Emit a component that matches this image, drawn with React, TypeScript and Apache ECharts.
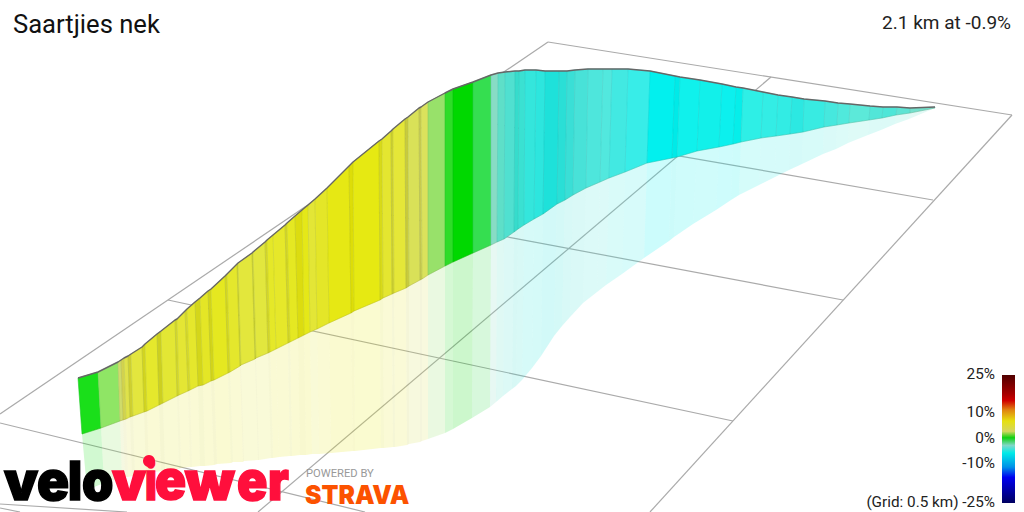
import { useEffect, useRef } from 'react';
import * as echarts from 'echarts';

// Stations along the climb (top of wall, foot of wall, foot of reflection)
const topX = [78, 98, 118, 121, 124, 128, 131, 142, 145, 157, 161, 175, 177, 185, 187, 195, 200, 208, 211, 225, 227, 237, 238, 252, 253, 265, 267, 273, 285, 287, 295, 302, 308, 315, 327, 349, 353, 379, 382, 391, 393, 405, 408, 419, 421, 428, 445, 453, 473, 491, 498, 505, 515, 519, 525, 536, 545, 559, 567, 575, 588, 603, 612, 628, 650, 675, 680, 700, 722, 736, 743, 763, 778, 792, 804, 825, 838, 850, 870, 883, 897, 910, 935];
const topY = [378, 372, 362, 360, 358, 356, 354, 347, 344, 334, 331, 320, 319, 311, 309, 302, 298, 291, 289, 276, 274, 264, 263, 253, 252, 242, 240, 235, 225, 223, 216, 210, 205, 199, 188, 166, 162, 141, 139, 131, 129, 119, 117, 108, 107, 102, 93, 89, 82, 75, 73, 72, 71, 71, 70, 70, 71, 71, 71, 70, 69, 69, 69, 69, 71, 76, 77, 80, 84, 87, 88, 92, 95, 97, 99, 101, 103, 104, 106, 107, 107, 108, 107];
const midX = [82, 101, 120, 123, 126, 130, 133, 144, 147, 159, 163, 177, 179, 188, 190, 198, 203, 211, 214, 228, 230, 240, 241, 255, 256, 268, 270, 276, 288, 290, 298, 304, 310, 317, 329, 351, 354, 380, 383, 392, 394, 406, 409, 420, 422, 428, 445, 453, 473, 491, 497, 504, 514, 518, 524, 534, 543, 557, 565, 573, 586, 600, 609, 625, 647, 672, 677, 697, 719, 733, 741, 761, 776, 790, 803, 824, 837, 849, 869, 882, 896, 910, 935];
const midY = [434, 428, 421, 420, 419, 417, 416, 412, 411, 405, 403, 396, 395, 391, 390, 386, 385, 381, 380, 373, 372, 366, 365, 359, 358, 353, 352, 349, 343, 342, 338, 335, 332, 329, 323, 313, 311, 300, 298, 294, 293, 288, 286, 280, 279, 275, 266, 262, 253, 245, 242, 239, 232, 229, 225, 219, 214, 204, 200, 195, 188, 182, 178, 172, 163, 158, 157, 151, 147, 144, 142, 138, 136, 134, 132, 127, 125, 123, 120, 118, 115, 113, 108];
const baseX = [87, 104, 122, 125, 128, 132, 135, 146, 149, 161, 165, 179, 181, 190, 192, 200, 205, 214, 217, 231, 233, 243, 244, 258, 259, 271, 273, 279, 290, 292, 300, 306, 312, 319, 331, 353, 355, 381, 384, 393, 395, 407, 409, 420, 422, 428, 445, 453, 472, 490, 496, 503, 512, 516, 522, 532, 541, 554, 562, 570, 583, 597, 606, 622, 644, 669, 674, 693, 716, 731, 739, 759, 775, 789, 802, 823, 836, 848, 868, 881, 895, 909, 935];
const baseY = [490, 483, 478, 477, 477, 476, 476, 474, 473, 471, 470, 469, 468, 467, 467, 466, 466, 465, 464, 463, 462, 462, 461, 460, 460, 458, 458, 457, 456, 456, 455, 455, 454, 454, 453, 451, 451, 448, 448, 447, 447, 445, 444, 442, 441, 439, 433, 429, 418, 407, 402, 396, 389, 386, 380, 368, 356, 336, 326, 317, 303, 292, 285, 274, 258, 241, 237, 224, 210, 200, 195, 185, 177, 170, 164, 154, 149, 143, 135, 130, 124, 119, 108];
const sectionColors = ['#1adf1a', '#8fe565', '#cfdb6a', '#d2d24e', '#dfe24a', '#cfd030', '#e3e63e', '#d2d420', '#e5e82c', '#cdd020', '#e3e734', '#d3d62a', '#e4e634', '#d6d82a', '#e5e72c', '#d4d61a', '#e4e626', '#d2d41a', '#e5e820', '#d4d620', '#e4e72c', '#d0d228', '#e3e73c', '#cfd22c', '#e2e73e', '#d4d62a', '#e5e828', '#e6e82a', '#d4d626', '#e5e822', '#dcdc10', '#e5e818', '#e3e636', '#e4e628', '#e6e814', '#dddd08', '#e6e912', '#d8da18', '#e4e630', '#ced030', '#e5e738', '#c8cb3c', '#d9e158', '#c8cc50', '#dbe25c', '#98e16a', '#2edc28', '#00d800', '#35de50', '#88dcc5', '#5edfc8', '#50e0d0', '#36dccc', '#3ae1d2', '#34e6dc', '#2de6de', '#1ee1da', '#2adfd6', '#3adfd6', '#48e2d8', '#4ee6dc', '#52e8de', '#42e9e2', '#38ede8', '#02f0ee', '#00eae8', '#10f1ec', '#12f0ea', '#0cf0ee', '#06eeea', '#2eefe6', '#33ede5', '#32ece4', '#2ce8e2', '#38ebe2', '#46e8de', '#50e9dc', '#5ce9d9', '#52e6d8', '#4ee6d8', '#5ee4d4', '#74e0cc'];

// Ground grid lines (0.5 km squares in perspective)
const gridFromX = [548, 548, 1012, 771, 168, 316, 443, 0, 0, 0];
const gridFromY = [42, 42, 115, 77, 300, 201, 115, 423, 504, 508];
const gridToX = [1012, 0, 650, 258, 733, 843, 933, 365, 127, 20];
const gridToY = [115, 414, 512, 512, 421, 300, 200, 512, 512, 512];

const barStops = [0, 0.15, 0.2, 0.27, 0.36, 0.44, 0.49, 0.55, 0.61, 0.72, 0.8, 1];
const barColors = ['#500000', '#a80000', '#d00000', '#e08010', '#e6e010', '#d5d660', '#10d010', '#80d8c8', '#00ebe8', '#0090e8', '#0000f0', '#000060'];
const barLabels = ['25%', '10%', '0%', '-10%', '(Grid: 0.5 km) -25%'];
const barLabelY = [374, 412, 438, 463, 502];

// Logo letters, placed one by one because they overlap
const logoLetters = ['v', 'e', 'l', 'o', 'v', 'i', 'e', 'w', 'e', 'r'];
const logoLeft = [4, 37, 68, 82, 112, 145, 155, 185, 237, 268];
const logoScale = [1.0, 0.98, 0.88, 0.93, 1.0, 0.74, 0.95, 1.05, 0.93, 0.89];
const logoColors = ['#000', '#000', '#000', '#000', '#ff0f3c', '#ff0f3c', '#ff0f3c', '#ff0f3c', '#ff0f3c', '#ff0f3c'];

const FONT = 'Roboto, sans-serif';
const LOGO_FONT = 'Inter, Roboto, sans-serif';

export default function App() {
  const chartRef = useRef<HTMLDivElement>(null);

  useEffect(() => {
    if (!chartRef.current) return;

    const chart = echarts.init(chartRef.current, null, { renderer: 'svg' });

    const poly = (api: any, points: number[][], style: any) => ({
      type: 'polygon',
      shape: { points: points.map((p) => api.coord(p)) },
      style,
    });

    const option: any = {
      animation: false,
      backgroundColor: '#fff',
      grid: { left: 0, right: 0, top: 0, bottom: 0 },
      xAxis: { type: 'value', min: 0, max: 1024, show: false },
      yAxis: { type: 'value', min: 0, max: 512, inverse: true, show: false },
      series: [
        {
          type: 'custom',
          silent: true,
          z: 1,
          data: gridFromX.map((x, i) => [x, gridFromY[i], gridToX[i], gridToY[i]]),
          renderItem: (_: any, api: any) => {
            const a = api.coord([api.value(0), api.value(1)]);
            const b = api.coord([api.value(2), api.value(3)]);
            return {
              type: 'line',
              shape: { x1: a[0], y1: a[1], x2: b[0], y2: b[1] },
              style: { stroke: '#aaa', lineWidth: 1.2 },
            };
          },
        },
        {
          // reflection on the ground
          type: 'custom',
          silent: true,
          z: 2,
          data: sectionColors.map((_, i) => i),
          renderItem: (params: any, api: any) => {
            const i = params.dataIndex;
            return poly(
              api,
              [[midX[i], midY[i]], [midX[i + 1], midY[i + 1]], [baseX[i + 1], baseY[i + 1]], [baseX[i], baseY[i]]],
              { fill: sectionColors[i], opacity: 0.2 },
            );
          },
        },
        {
          type: 'custom',
          silent: true,
          z: 3,
          data: sectionColors.map((_, i) => i),
          renderItem: (params: any, api: any) => {
            const i = params.dataIndex;
            return poly(
              api,
              [[topX[i], topY[i]], [topX[i + 1], topY[i + 1]], [midX[i + 1], midY[i + 1]], [midX[i], midY[i]]],
              { fill: sectionColors[i], stroke: sectionColors[i], lineWidth: 0.5 },
            );
          },
        },
        {
          // thin dividers between sections
          type: 'custom',
          silent: true,
          z: 4,
          data: topX.map((x, i) => [x, topY[i], midX[i], midY[i]]),
          renderItem: (_: any, api: any) => {
            const a = api.coord([api.value(0), api.value(1)]);
            const b = api.coord([api.value(2), api.value(3)]);
            return {
              type: 'line',
              shape: { x1: a[0], y1: a[1], x2: b[0], y2: b[1] },
              style: { stroke: 'rgba(0,60,60,0.12)', lineWidth: 0.7 },
            };
          },
        },
        {
          type: 'line',
          silent: true,
          z: 5,
          symbol: 'none',
          data: midX.map((x, i) => [x, midY[i]]),
          lineStyle: { color: 'rgba(60,60,0,0.2)', width: 0.7 },
        },
        {
          type: 'line',
          silent: true,
          z: 5,
          symbol: 'none',
          data: topX.map((x, i) => [x, topY[i]]),
          lineStyle: { color: '#666', width: 1.4 },
        },
      ],
      graphic: [
        {
          type: 'rect',
          z: 100,
          shape: { x: 1002, y: 375, width: 13, height: 128 },
          style: {
            fill: new echarts.graphic.LinearGradient(
              0, 0, 0, 1,
              barStops.map((offset, i) => ({ offset, color: barColors[i] })),
            ),
          },
        },
        ...barLabels.map((text, i) => ({
          type: 'text',
          z: 100,
          x: 995,
          y: barLabelY[i],
          style: { text, fontFamily: FONT, fontSize: 15.3, fill: '#222', align: 'right', verticalAlign: 'middle' },
        })),
        {
          type: 'text',
          z: 100,
          x: 13,
          y: 24,
          style: { text: 'Saartjies nek', fontFamily: FONT, fontSize: 25.6, fill: '#111', verticalAlign: 'middle' },
        },
        {
          type: 'text',
          z: 100,
          x: 1011,
          y: 22,
          style: { text: '2.1 km at -0.9%', fontFamily: FONT, fontSize: 19, fill: '#222', align: 'right', verticalAlign: 'middle' },
        },
        ...logoLetters.map((text, i) => ({
          type: 'text',
          z: 100 + i,
          x: logoLeft[i],
          y: 507,
          scaleX: logoScale[i],
          style: {
            text,
            fontFamily: LOGO_FONT,
            fontWeight: 900,
            fontSize: 54,
            fill: logoColors[i],
            stroke: logoColors[i],
            lineWidth: 1.5,
            verticalAlign: 'bottom',
          },
        })),
        {
          type: 'circle',
          z: 120,
          shape: { cx: 149, cy: 461, r: 6 },
          style: { fill: '#ff0f3c' },
        },
        {
          type: 'text',
          z: 100,
          x: 306,
          y: 474,
          scaleX: 1.12,
          style: { text: 'POWERED BY', fontFamily: FONT, fontSize: 10, fill: '#999', verticalAlign: 'middle' },
        },
        {
          type: 'text',
          z: 100,
          x: 305,
          y: 494,
          scaleX: 0.95,
          style: { text: 'STRAVA', fontFamily: LOGO_FONT, fontWeight: 900, fontSize: 26, fill: '#fc5200', verticalAlign: 'middle' },
        },
      ],
    };

    chart.setOption(option);

    return () => {
      chart.dispose();
    };
  }, []);

  return (
    <div
      ref={chartRef}
      style={{ position: 'absolute', left: 0, top: 0, width: 1024, height: 512 }}
    />
  );
}
